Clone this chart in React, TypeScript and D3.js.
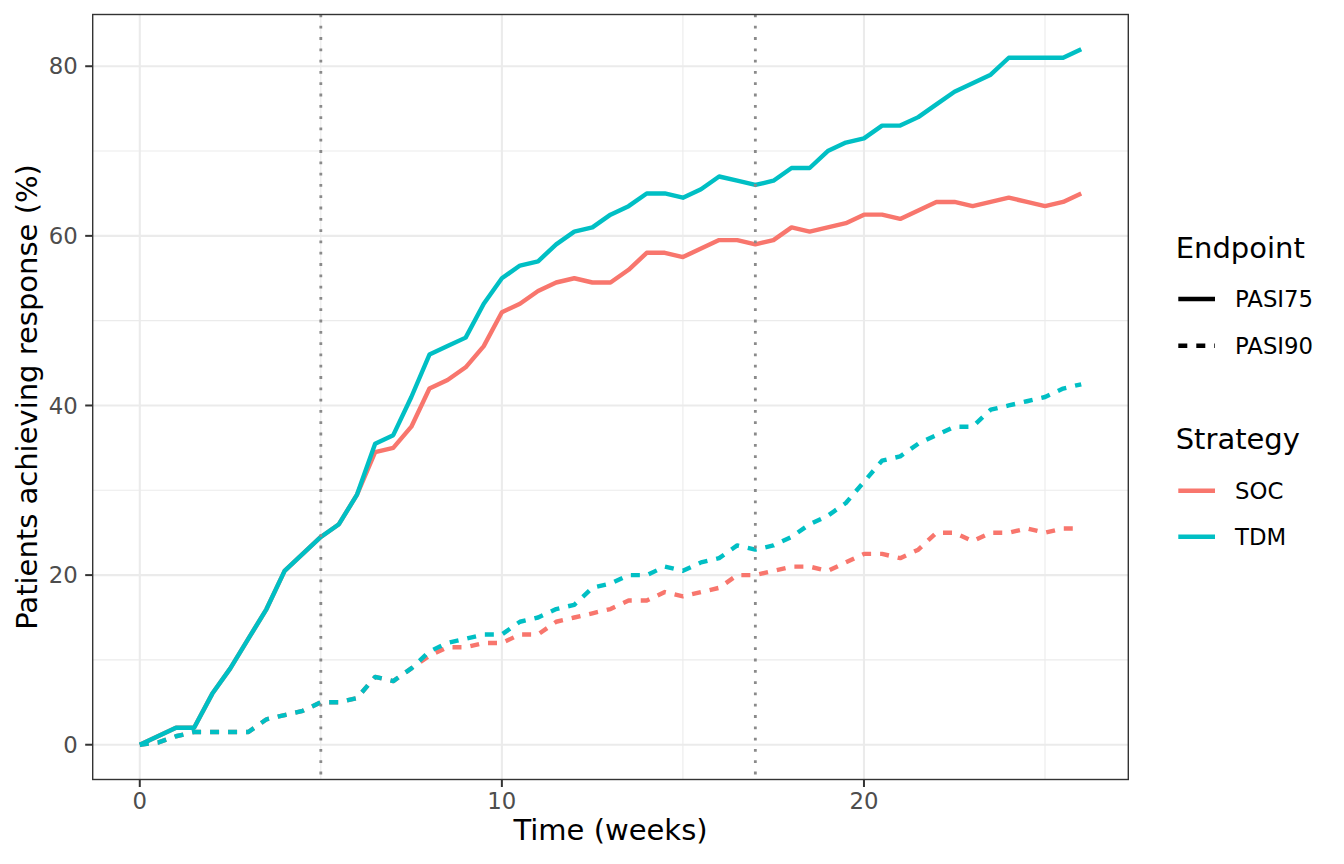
import React from "react";
import * as d3 from "d3";

const weeks = [0,0.5,1,1.5,2,2.5,3,3.5,4,4.5,5,5.5,6,6.5,7,7.5,8,8.5,9,9.5,10,10.5,11,11.5,12,12.5,13,13.5,14,14.5,15,15.5,16,16.5,17,17.5,18,18.5,19,19.5,20,20.5,21,21.5,22,22.5,23,23.5,24,24.5,25,25.5,26];

const socPasi75 = [0,1,2,2,6,9,12.5,16,20.5,22.5,24.5,26,29.5,34.5,35,37.5,42,43,44.5,47,51,52,53.5,54.5,55,54.5,54.5,56,58,58,57.5,58.5,59.5,59.5,59,59.5,61,60.5,61,61.5,62.5,62.5,62,63,64,64,63.5,64,64.5,64,63.5,64,65];
const tdmPasi75 = [0,1,2,2,6,9,12.5,16,20.5,22.5,24.5,26,29.5,35.5,36.5,41,46,47,48,52,55,56.5,57,59,60.5,61,62.5,63.5,65,65,64.5,65.5,67,66.5,66,66.5,68,68,70,71,71.5,73,73,74,75.5,77,78,79,81,81,81,81,82];
const socPasi90 = [0,0.25,1,1.5,1.5,1.5,1.5,3,3.5,4,5,5,5.5,8,7.5,9,10.5,11.5,11.5,12,12,13,13,14.5,15,15.5,16,17,17,18,17.5,18,18.5,20,20,20.5,21,21,20.5,21.5,22.5,22.5,22,23,25,25,24,25,25,25.5,25,25.5,25.5];
const tdmPasi90 = [0,0.25,1,1.5,1.5,1.5,1.5,3,3.5,4,5,5,5.5,8,7.5,9,11,12,12.5,13,13,14.5,15,16,16.5,18.5,19,20,20,21,20.5,21.5,22,23.5,23,23.5,24.5,26,27,28.5,31,33.5,34,35.5,36.5,37.5,37.5,39.5,40,40.5,41,42,42.5];

const strategies = ["SOC", "TDM"];
const strategyColors = ["#F8766D", "#00BFC4"];
const endpoints = ["PASI75", "PASI90"];
const endpointDash = ["none", "9 9"];
const vlineWeeks = [5, 17];
const xTicks = [0, 10, 20];
const xMinor = [5, 15, 25];
const yTicks = [0, 20, 40, 60, 80];
const yMinor = [10, 30, 50, 70];

const seriesList = [
  { strategy: "SOC", endpoint: "PASI75", values: socPasi75 },
  { strategy: "SOC", endpoint: "PASI90", values: socPasi90 },
  { strategy: "TDM", endpoint: "PASI75", values: tdmPasi75 },
  { strategy: "TDM", endpoint: "PASI90", values: tdmPasi90 },
];

const FONT = "DejaVu Sans, Verdana, sans-serif";

export default function App() {
  const W = 1344, H = 864;
  const left = 92.7, right = 1128.3, top = 14.5, bottom = 779.5;
  const x = d3.scaleLinear().domain([-1.3, 27.3]).range([left, right]);
  const y = d3.scaleLinear().domain([-4.1, 86.1]).range([bottom, top]);
  const color = d3.scaleOrdinal<string, string>().domain(strategies).range(strategyColors);
  const dash = d3.scaleOrdinal<string, string>().domain(endpoints).range(endpointDash);
  const line = d3.line<number>().x((_, i) => x(weeks[i])).y((d) => y(d));

  const lx0 = 1178.3, lx1 = 1215;
  const legendLabelX = 1235;

  return (
    <svg width={W} height={H} style={{ position: "absolute", left: 0, top: 0, background: "#fff" }} fontFamily={FONT}>
      <rect x={0} y={0} width={W} height={H} fill="#fff" />
      <rect x={left} y={top} width={right - left} height={bottom - top} fill="#fff" />
      {yMinor.map((v) => (
        <line key={"ym" + v} x1={left} x2={right} y1={y(v)} y2={y(v)} stroke="#EBEBEB" strokeWidth={1.1} />
      ))}
      {xMinor.map((v) => (
        <line key={"xm" + v} x1={x(v)} x2={x(v)} y1={top} y2={bottom} stroke="#EBEBEB" strokeWidth={1.1} />
      ))}
      {yTicks.map((v) => (
        <line key={"yg" + v} x1={left} x2={right} y1={y(v)} y2={y(v)} stroke="#EBEBEB" strokeWidth={2.1} />
      ))}
      {xTicks.map((v) => (
        <line key={"xg" + v} x1={x(v)} x2={x(v)} y1={top} y2={bottom} stroke="#EBEBEB" strokeWidth={2.1} />
      ))}
      {seriesList.map((s) => (
        <path
          key={s.strategy + s.endpoint}
          d={line(s.values) || ""}
          fill="none"
          stroke={color(s.strategy)}
          strokeWidth={4.4}
          strokeDasharray={dash(s.endpoint)}
          strokeLinejoin="round"
        />
      ))}
      {vlineWeeks.map((v) => (
        <line key={"vl" + v} x1={x(v)} x2={x(v)} y1={top} y2={bottom} stroke="#8A8A8A" strokeWidth={2.8} strokeDasharray="2.8 8.5" />
      ))}
      <rect x={left} y={top} width={right - left} height={bottom - top} fill="none" stroke="#333333" strokeWidth={1.4} />
      {yTicks.map((v) => (
        <g key={"yt" + v}>
          <line x1={left - 7.5} x2={left} y1={y(v)} y2={y(v)} stroke="#333333" strokeWidth={2} />
          <text x={left - 15} y={y(v)} dy="0.36em" textAnchor="end" fontSize={22.8} fill="#4D4D4D">{v}</text>
        </g>
      ))}
      {xTicks.map((v) => (
        <g key={"xt" + v}>
          <line x1={x(v)} x2={x(v)} y1={bottom} y2={bottom + 7.5} stroke="#333333" strokeWidth={2} />
          <text x={x(v)} y={809} textAnchor="middle" fontSize={22.8} fill="#4D4D4D">{v}</text>
        </g>
      ))}
      <text x={(left + right) / 2} y={840} textAnchor="middle" fontSize={29} fill="#000">Time (weeks)</text>
      <text transform={`translate(37, ${(top + bottom) / 2}) rotate(-90)`} textAnchor="middle" fontSize={29} fill="#000">
        Patients achieving response (%)
      </text>
      <text x={1175.7} y={258} fontSize={29} fill="#000">Endpoint</text>
      {endpoints.map((e, i) => (
        <g key={"le" + e}>
          <line x1={lx0} x2={lx1} y1={299 + i * 46.7} y2={299 + i * 46.7} stroke="#000" strokeWidth={4.5} strokeDasharray={dash(e)} />
          <text x={legendLabelX} y={307.3 + i * 46.7} fontSize={22.8} fill="#000">{e}</text>
        </g>
      ))}
      <text x={1175.7} y={449.3} fontSize={29} fill="#000">Strategy</text>
      {strategies.map((s, i) => (
        <g key={"ls" + s}>
          <line x1={lx0} x2={lx1} y1={490.7 + i * 46} y2={490.7 + i * 46} stroke={color(s)} strokeWidth={4.5} />
          <text x={legendLabelX} y={499.3 + i * 46} fontSize={22.8} fill="#000">{s}</text>
        </g>
      ))}
    </svg>
  );
}
